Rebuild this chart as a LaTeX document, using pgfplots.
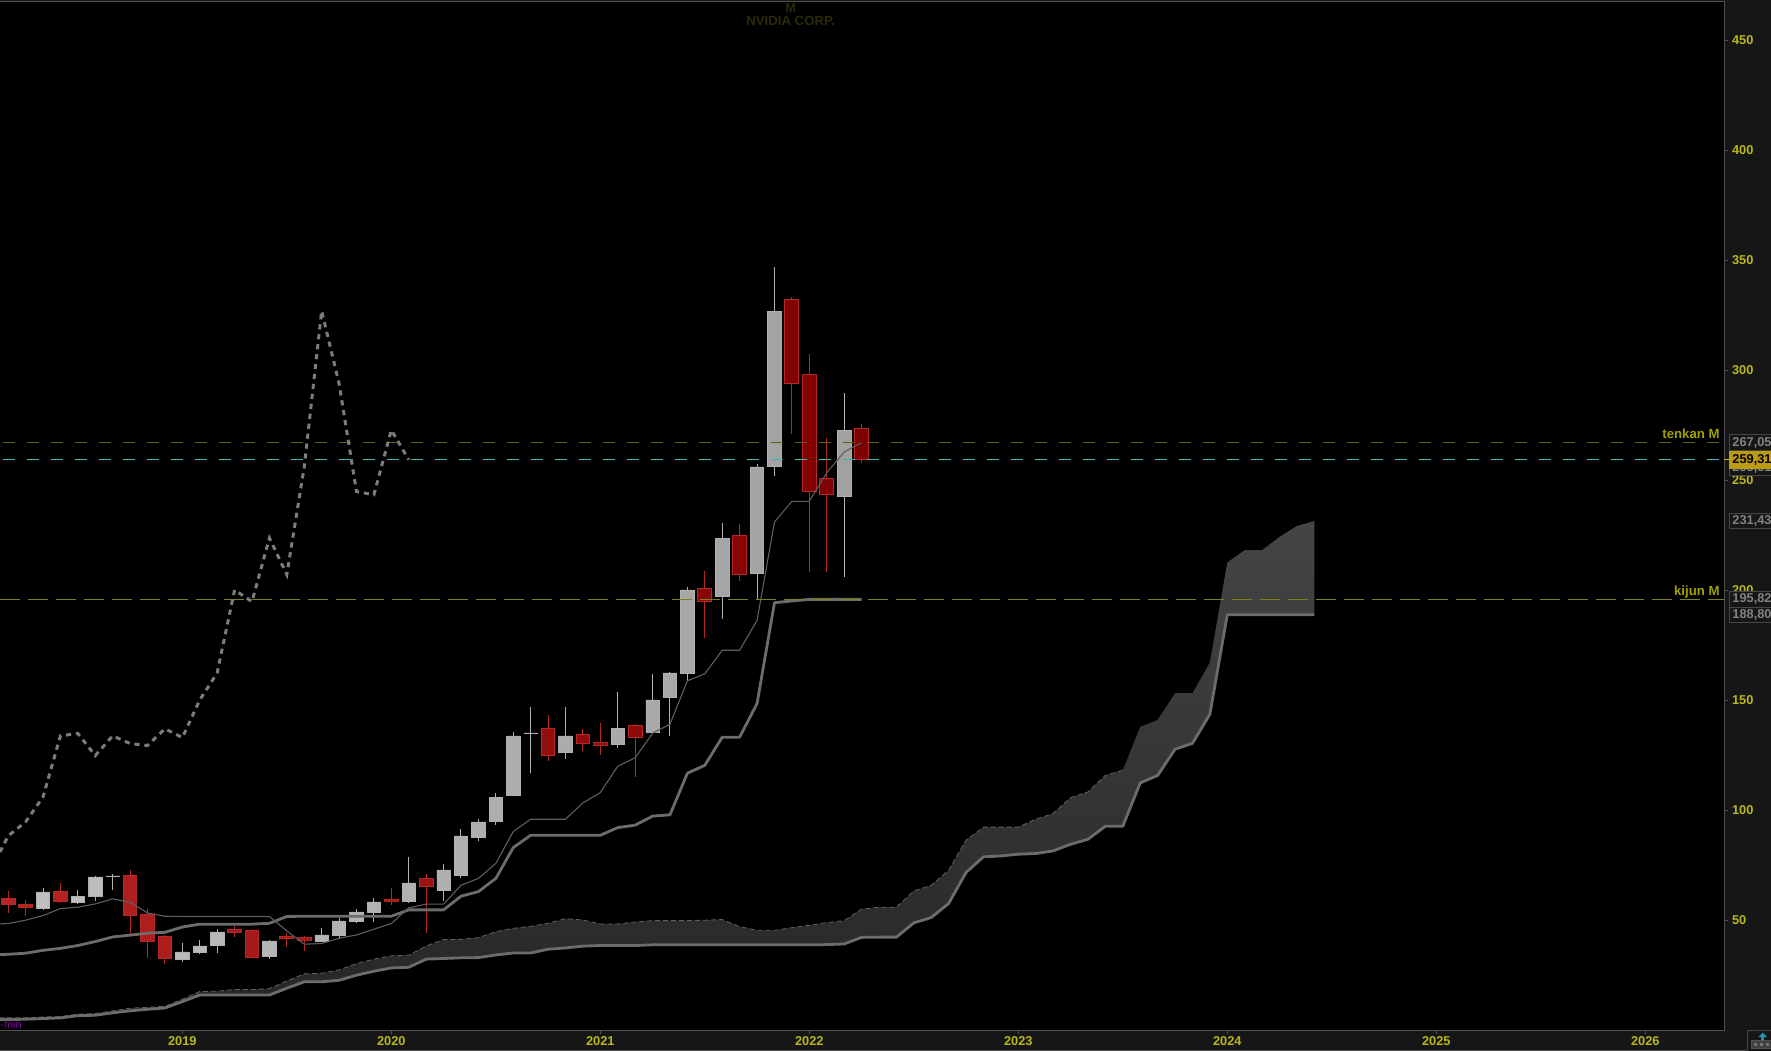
\documentclass[border=0pt]{standalone}
\usepackage{fontspec}
\setmainfont{Liberation Sans}
\usepackage{pgfplots}
\usepackage{pgfplotstable}
\pgfplotsset{compat=1.18}
\definecolor{panel}{HTML}{161616}
\definecolor{frame}{HTML}{505050}
\definecolor{ticklab}{HTML}{B8B81E}
\definecolor{wickg}{HTML}{B0B0B0}
\definecolor{wickr}{HTML}{B42828}
\definecolor{lineg}{HTML}{6C6C6C}
\definecolor{tenk}{HTML}{5E5E5E}
\definecolor{chik}{HTML}{7C7C7C}
\definecolor{oliv}{HTML}{605F10}
\definecolor{kij}{HTML}{80801A}
\definecolor{cyanl}{HTML}{3FB8B8}
\definecolor{boxb}{HTML}{464646}
\definecolor{boxt}{HTML}{828282}
\definecolor{gold}{HTML}{BC9A12}
\definecolor{redl}{HTML}{B82424}
\definecolor{redr}{HTML}{7D0000}
\definecolor{labt}{HTML}{A0A000}
\definecolor{capt}{HTML}{2A2A08}
\definecolor{minc}{HTML}{8A00A8}
\definecolor{bluea}{HTML}{2A8AB5}
% i = months from Jan 2019
\pgfplotstableread{
i high top bot low
-8 64.7 62.9 55.6 54.7
-6 63.8 61.0 58.3 57.4
-5 70.1 69.7 61.0 58.8
-4 71.0 70.1 69.8 63.8
0 39.5 35.6 32.4 31.2
1 40.9 38.3 35.6 34.8
2 45.9 44.7 38.8 35.1
5 41.0 40.6 33.8 32.4
8 46.5 43.3 40.6 40.0
9 50.9 49.7 43.3 41.6
10 55.1 53.8 49.7 48.8
11 60.1 58.3 53.8 49.2
13 78.8 67.0 58.8 57.9
15 75.6 72.9 63.8 58.8
16 91.5 88.3 70.6 69.2
17 96.0 94.7 87.9 86.0
18 107.9 106.0 95.1 93.3
19 135.4 133.8 107.0 106.5
20 147.0 135.1 134.9 116.7
22 147.0 133.8 126.5 123.3
25 153.8 137.0 130.1 128.3
27 162.0 150.1 135.6 135.3
28 162.9 162.4 151.1 133.8
29 201.5 200.1 162.4 158.8
31 230.6 223.7 197.1 187.1
33 257.2 256.0 207.5 195.4
34 346.9 326.9 256.5 251.9
38 289.7 272.8 242.8 206.2
}\greycandles
\pgfplotstableread{
i high top bot low
-10 63.3 60.0 57.1 53.3
-9 59.1 57.0 55.6 52.0
-7 67.0 63.2 58.3 57.9
-3 72.8 70.4 52.1 43.8
-2 55.1 52.7 40.3 32.6
-1 43.3 42.7 32.6 30.3
3 47.4 45.6 44.4 42.4
4 45.9 45.4 33.0 33.0
6 44.1 42.7 41.6 38.0
7 42.9 42.0 41.0 36.0
12 64.7 59.2 58.5 57.0
14 71.0 68.8 65.3 44.2
21 143.3 137.3 124.8 122.4
23 137.0 134.5 130.3 127.0
24 139.7 130.9 129.4 125.1
26 139.1 138.6 133.0 115.0
30 208.7 200.9 194.8 178.4
32 230.0 225.0 207.1 204.2
35 333.3 332.2 293.9 271.2
36 307.4 298.1 244.8 208.4
37 269.2 250.9 243.4 208.4
39 275.7 273.6 259.4 258.0
}\redcandles
\pgfplotsset{
  base/.style={at={(0,10.4pt)},anchor=south west,scale only axis,
    width=862.15pt,height=514.15pt,
    xmin=-10.47,xmax=88.54,ymin=0,ymax=467.4},
  wick/.style={draw=none,mark=none,forget plot,
    error bars/.cd,y dir=plus,y explicit,error mark=none,
    error bar style={draw=#1,line width=0.5pt}},
}
\newcommand{\lab}{\fontsize{6.4pt}{7pt}\bfseries\selectfont}
\begin{document}
\begin{tikzpicture}
\path[use as bounding box,clip] (0,0) rectangle (885.5pt,525.5pt);
\fill[panel] (0,0) rectangle (885.5pt,525.5pt);
% frame, ticks, wicks
\begin{axis}[base,
  axis background/.style={fill=black},
  axis line style={draw=none},
  tick style={draw=frame,line width=0.5pt},
  tick align=outside,major tick length=2pt,
  xtick pos=bottom,ytick pos=right,
  xtick={0,12,24,36,48,60,72,84},
  xticklabels={2019,2020,2021,2022,2023,2024,2025,2026},
  ytick={50,100,150,200,250,300,350,400,450},
  tick label style={font=\lab,text=ticklab,inner sep=0pt},
  xticklabel style={yshift=-1.0pt},
  yticklabel style={xshift=1.7pt,yshift=0.2pt},
  /pgf/number format/assume math mode=true]
\addplot[wick=wickg] table[x=i,y=low,y error plus expr=\thisrow{high}-\thisrow{low}] {\greycandles};
\addplot[wick=wickr] table[x=i,y=low,y error plus expr=\thisrow{high}-\thisrow{low}] {\redcandles};
\end{axis}
% light bodies
\begin{axis}[base,hide axis,ybar stacked,bar width=6.7pt]
\addplot[draw=none,fill=none,forget plot] table[x=i,y=bot] {\greycandles};
\addplot[draw=wickg,line width=0.3pt,left color=black!25,right color=black!37] table[x=i,y expr=\thisrow{top}-\thisrow{bot}] {\greycandles};
\end{axis}
% red bodies
\begin{axis}[base,hide axis,ybar stacked,bar width=6.9pt]
\addplot[draw=none,fill=none,forget plot] table[x=i,y=bot] {\redcandles};
\addplot[draw=wickr,line width=0.5pt,left color=redl,right color=redr] table[x=i,y expr=\thisrow{top}-\thisrow{bot}] {\redcandles};
\end{axis}
% lines, cloud, labels
\begin{axis}[base,hide axis,clip=false]
% cloud
\addplot[draw=none,bottom color=black!85,top color=black!73] coordinates {
(-11,5.6)(-10,5.7)(-9,5.7)(-8,6)(-7,6.2)(-6,7.3)(-5,7.6)(-4,8.8)(-3,10)(-2,10.4)(-1,10.9)
(0,14.1)(1,17.6)(2,17.7)(3,18.5)(4,18.5)(5,18.9)(6,22.4)(7,25.6)(8,25.9)(9,27.4)(10,30.3)
(11,32.3)(12,33.8)(13,34.1)(14,38.3)(15,41.2)(16,41.3)(17,42.1)(18,44.8)(19,46.3)(20,47.2)
(21,48.6)(22,50.7)(23,50.1)(24,48.3)(25,48.3)(26,49.2)(27,49.8)(28,49.8)(29,49.8)(30,50)
(31,50.3)(32,47.1)(33,45.4)(34,45.4)(35,46.6)(36,47.7)(37,48.9)(38,49.8)(39,55)(40,55.9)
(41,55.9)(42,63.3)(43,65.9)(44,72.7)(45,86.4)(46,92.3)(47,92.3)(48,92.3)(49,95.9)(50,98.5)
(51,105.7)(52,108.3)(53,115.8)(54,118.2)(55,137.9)(56,141)(57,153.2)(58,153.2)(59,167.1)
(60,212.6)(61,218.2)(62,218.2)(63,224.2)(64,229.2)(65,231.43)
(65,188.8)(64,188.8)(63,188.8)(62,188.8)(61,188.8)(60,188.8)(59,143.6)(58,130.4)(57,127.7)
(56,115.8)(55,112.4)(54,92.7)(53,92.7)(52,86.8)(51,84.5)(50,81.5)(49,80.3)(48,80)(47,79.2)
(46,78.8)(45,71.7)(44,57.6)(43,51.2)(42,48.8)(41,42.3)(40,42.3)(39,42.2)(38,39.2)(37,38.9)
(36,38.8)(35,38.8)(34,38.8)(33,38.8)(32,38.8)(31,38.8)(30,38.8)(29,38.8)(28,38.8)(27,38.8)
(26,38.5)(25,38.5)(24,38.5)(23,38.2)(22,37.4)(21,36.8)(20,35.1)(19,35.1)(18,34.2)(17,33)
(16,32.9)(15,32.6)(14,32.3)(13,28.6)(12,28.3)(11,26.8)(10,25)(9,22.7)(8,22)(7,22)(6,19.1)
(5,16)(4,16)(3,16)(2,16)(1,16)(0,13)(-1,10.1)(-2,9.5)(-3,8.8)(-4,7.9)(-5,6.8)(-6,6.6)
(-7,5.6)(-8,5.3)(-9,5)(-10,4.8)(-11,4.8)
};
% upper cloud edge (leading span A)
\addplot[draw=black!62,line width=0.4pt,dash pattern=on 2.5pt off 1.5pt] coordinates {
(-11,5.6)(-10,5.7)(-9,5.7)(-8,6)(-7,6.2)(-6,7.3)(-5,7.6)(-4,8.8)(-3,10)(-2,10.4)(-1,10.9)
(0,14.1)(1,17.6)(2,17.7)(3,18.5)(4,18.5)(5,18.9)(6,22.4)(7,25.6)(8,25.9)(9,27.4)(10,30.3)
(11,32.3)(12,33.8)(13,34.1)(14,38.3)(15,41.2)(16,41.3)(17,42.1)(18,44.8)(19,46.3)(20,47.2)
(21,48.6)(22,50.7)(23,50.1)(24,48.3)(25,48.3)(26,49.2)(27,49.8)(28,49.8)(29,49.8)(30,50)
(31,50.3)(32,47.1)(33,45.4)(34,45.4)(35,46.6)(36,47.7)(37,48.9)(38,49.8)(39,55)(40,55.9)
(41,55.9)(42,63.3)(43,65.9)(44,72.7)(45,86.4)(46,92.3)(47,92.3)(48,92.3)(49,95.9)(50,98.5)
(51,105.7)(52,108.3)(53,115.8)(54,118.2)
};
% lower cloud edge (leading span B)
\addplot[draw=lineg,line width=1.4pt,line join=round] coordinates {
(-11,4.8)(-10,4.8)(-9,5)(-8,5.3)(-7,5.6)(-6,6.6)(-5,6.8)(-4,7.9)(-3,8.8)(-2,9.5)(-1,10.1)
(0,13)(1,16)(2,16)(3,16)(4,16)(5,16)(6,19.1)(7,22)(8,22)(9,22.7)(10,25)(11,26.8)(12,28.3)
(13,28.6)(14,32.3)(15,32.6)(16,32.9)(17,33)(18,34.2)(19,35.1)(20,35.1)(21,36.8)(22,37.4)
(23,38.2)(24,38.5)(25,38.5)(26,38.5)(27,38.8)(28,38.8)(29,38.8)(30,38.8)(31,38.8)(32,38.8)
(33,38.8)(34,38.8)(35,38.8)(36,38.8)(37,38.9)(38,39.2)(39,42.2)(40,42.3)(41,42.3)(42,48.8)
(43,51.2)(44,57.6)(45,71.7)(46,78.8)(47,79.2)(48,80)(49,80.3)(50,81.5)(51,84.5)(52,86.8)
(53,92.7)(54,92.7)(55,112.4)(56,115.8)(57,127.7)(58,130.4)(59,143.6)(60,188.8)(61,188.8)
(62,188.8)(63,188.8)(64,188.8)(65,188.8)
};
% kijun
\addplot[draw=lineg,line width=1.4pt,line join=round] coordinates {
(-11,34.3)(-10,34.5)(-9,35)(-8,36.3)(-7,37.2)(-6,38.5)(-5,40.3)(-4,42.4)(-3,43.2)(-2,44.1)(-1,44.5)
(0,46.9)(1,48.2)(2,48.2)(3,48.2)(4,48.2)(5,48.6)(6,51.7)(7,51.8)(8,51.8)(9,51.8)(10,51.8)
(11,51.8)(12,51.8)(13,54.7)(14,54.7)(15,54.7)(16,60.9)(17,63)(18,69)(19,83)(20,88.6)(21,88.6)
(22,88.6)(23,88.6)(24,88.6)(25,92.1)(26,93.2)(27,97.3)(28,97.9)(29,116.8)(30,120.4)(31,133.2)
(32,133.2)(33,148.5)(34,194.3)(35,195.1)(36,195.82)(37,195.82)(38,195.82)(39,195.82)
};
% tenkan
\addplot[draw=tenk,line width=0.55pt] coordinates {
(-11,48.1)(-10,48.5)(-9,50)(-8,52.1)(-7,55.3)(-6,55.9)(-5,57.4)(-4,59.7)(-3,58.2)(-2,53.3)(-1,51.8)
(0,51.7)(1,51.7)(2,51.7)(3,51.7)(4,51.7)(5,51.7)(6,45.1)(7,39.1)(8,39.4)(9,41.8)(10,43.3)
(11,45.9)(12,48.5)(13,55.6)(14,57.3)(15,57.3)(16,65.9)(17,69)(18,75.8)(19,90.3)(20,95.9)(21,95.9)
(22,95.9)(23,103.3)(24,108)(25,120)(26,123.8)(27,135)(28,139.1)(29,158.8)(30,162)(31,172.7)
(32,172.7)(33,186.3)(34,231)(35,240.4)(36,240.4)(37,253.4)(38,262.8)(39,267.05)
};
% price lines
\addplot[draw=oliv,line width=0.55pt,dash pattern=on 6pt off 6pt] coordinates {(-10.3,267.05)(88.54,267.05)};
\addplot[draw=cyanl,line width=0.55pt,dash pattern=on 6pt off 6pt] coordinates {(-10.3,259.31)(88.54,259.31)};
\addplot[draw=kij,line width=0.55pt,dash pattern=on 10pt off 4pt] coordinates {(-10.47,195.82)(88.54,195.82)};
% chikou
\addplot[draw=chik,line width=1.5pt,dash pattern=on 2.6pt off 2.4pt] coordinates {
(-11,72.9)(-10,88.3)(-9,94.7)(-8,106)(-7,133.8)(-6,134.9)(-5,124.8)(-4,133.8)(-3,130.3)(-2,129.4)(-1,137)
(0,133)(1,150.1)(2,162.4)(3,200.1)(4,194.8)(5,223.7)(6,207.1)(7,256)(8,326.9)(9,293.9)(10,244.8)
(11,243.4)(12,272.8)(13,259.31)
};
% right-hand frame and short ticks to the value boxes
\draw[frame,line width=0.5pt] (rel axis cs:0,1)--(rel axis cs:1,1)--(rel axis cs:1,0)--(rel axis cs:0,0);
\draw[ticklab,line width=0.5pt] (axis cs:88.54,259.31)--++(3pt,0);
\tikzset{vbox/.style={anchor=west,draw=boxb,line width=0.5pt,fill=panel,text=boxt,font=\lab,
  inner xsep=1.4pt,inner ysep=0pt,minimum height=7.8pt,xshift=2.4pt}}
\node[vbox] at (axis cs:88.54,255.51) {255,51};
\node[vbox] at (axis cs:88.54,267.05) {267,05};
\node[vbox,fill=gold,draw=gold,text=black,minimum height=8.6pt] at (axis cs:88.54,259.31) {259,31};
\node[vbox] at (axis cs:88.54,231.43) {231,43};
\node[vbox] at (axis cs:88.54,195.82) {195,82};
\node[vbox] at (axis cs:88.54,188.80) {188,80};
\node[anchor=east,inner sep=0pt,text=labt,font=\fontsize{6.6pt}{7pt}\bfseries\selectfont] at (axis cs:88.29,270.95) {tenkan M};
\node[anchor=east,inner sep=0pt,text=labt,font=\fontsize{6.6pt}{7pt}\bfseries\selectfont] at (axis cs:88.29,199.35) {kijun M};
\end{axis}
% top caption and corner widgets
\node[text=capt,font=\lab,inner sep=0pt] at (395.3pt,521.5pt) {M};
\node[text=capt,font=\fontsize{6.6pt}{7pt}\bfseries\selectfont,inner sep=0pt] at (395.3pt,515pt) {NVIDIA CORP.};
\node[anchor=west,inner sep=0pt,text=minc,font=\fontsize{5.5pt}{6pt}\selectfont] at (0,13pt) {-min};
\draw[frame,line width=0.5pt] (0,0.5pt)--(885.5pt,0.5pt);
\draw[boxb,line width=0.5pt] (873.5pt,0)--(873.5pt,10.5pt)--(885.5pt,10.5pt);
\fill[panel] (873.75pt,0) rectangle (885.5pt,10.25pt);
\draw[frame,line width=0.5pt,fill=black!75] (875.85pt,1.35pt) rectangle (887pt,5.15pt);
\foreach \x in {877,880,883}{\fill[black!55] (\x pt,2.5pt) rectangle (\x pt+1.7pt,4pt);}
\fill[bluea] (880.6pt,5.3pt)--(880.6pt,7pt)--(879.2pt,7pt)--(881.35pt,9.2pt)--(883.5pt,7pt)--(882.1pt,7pt)--(882.1pt,5.3pt)--cycle;
\end{tikzpicture}
\end{document}
